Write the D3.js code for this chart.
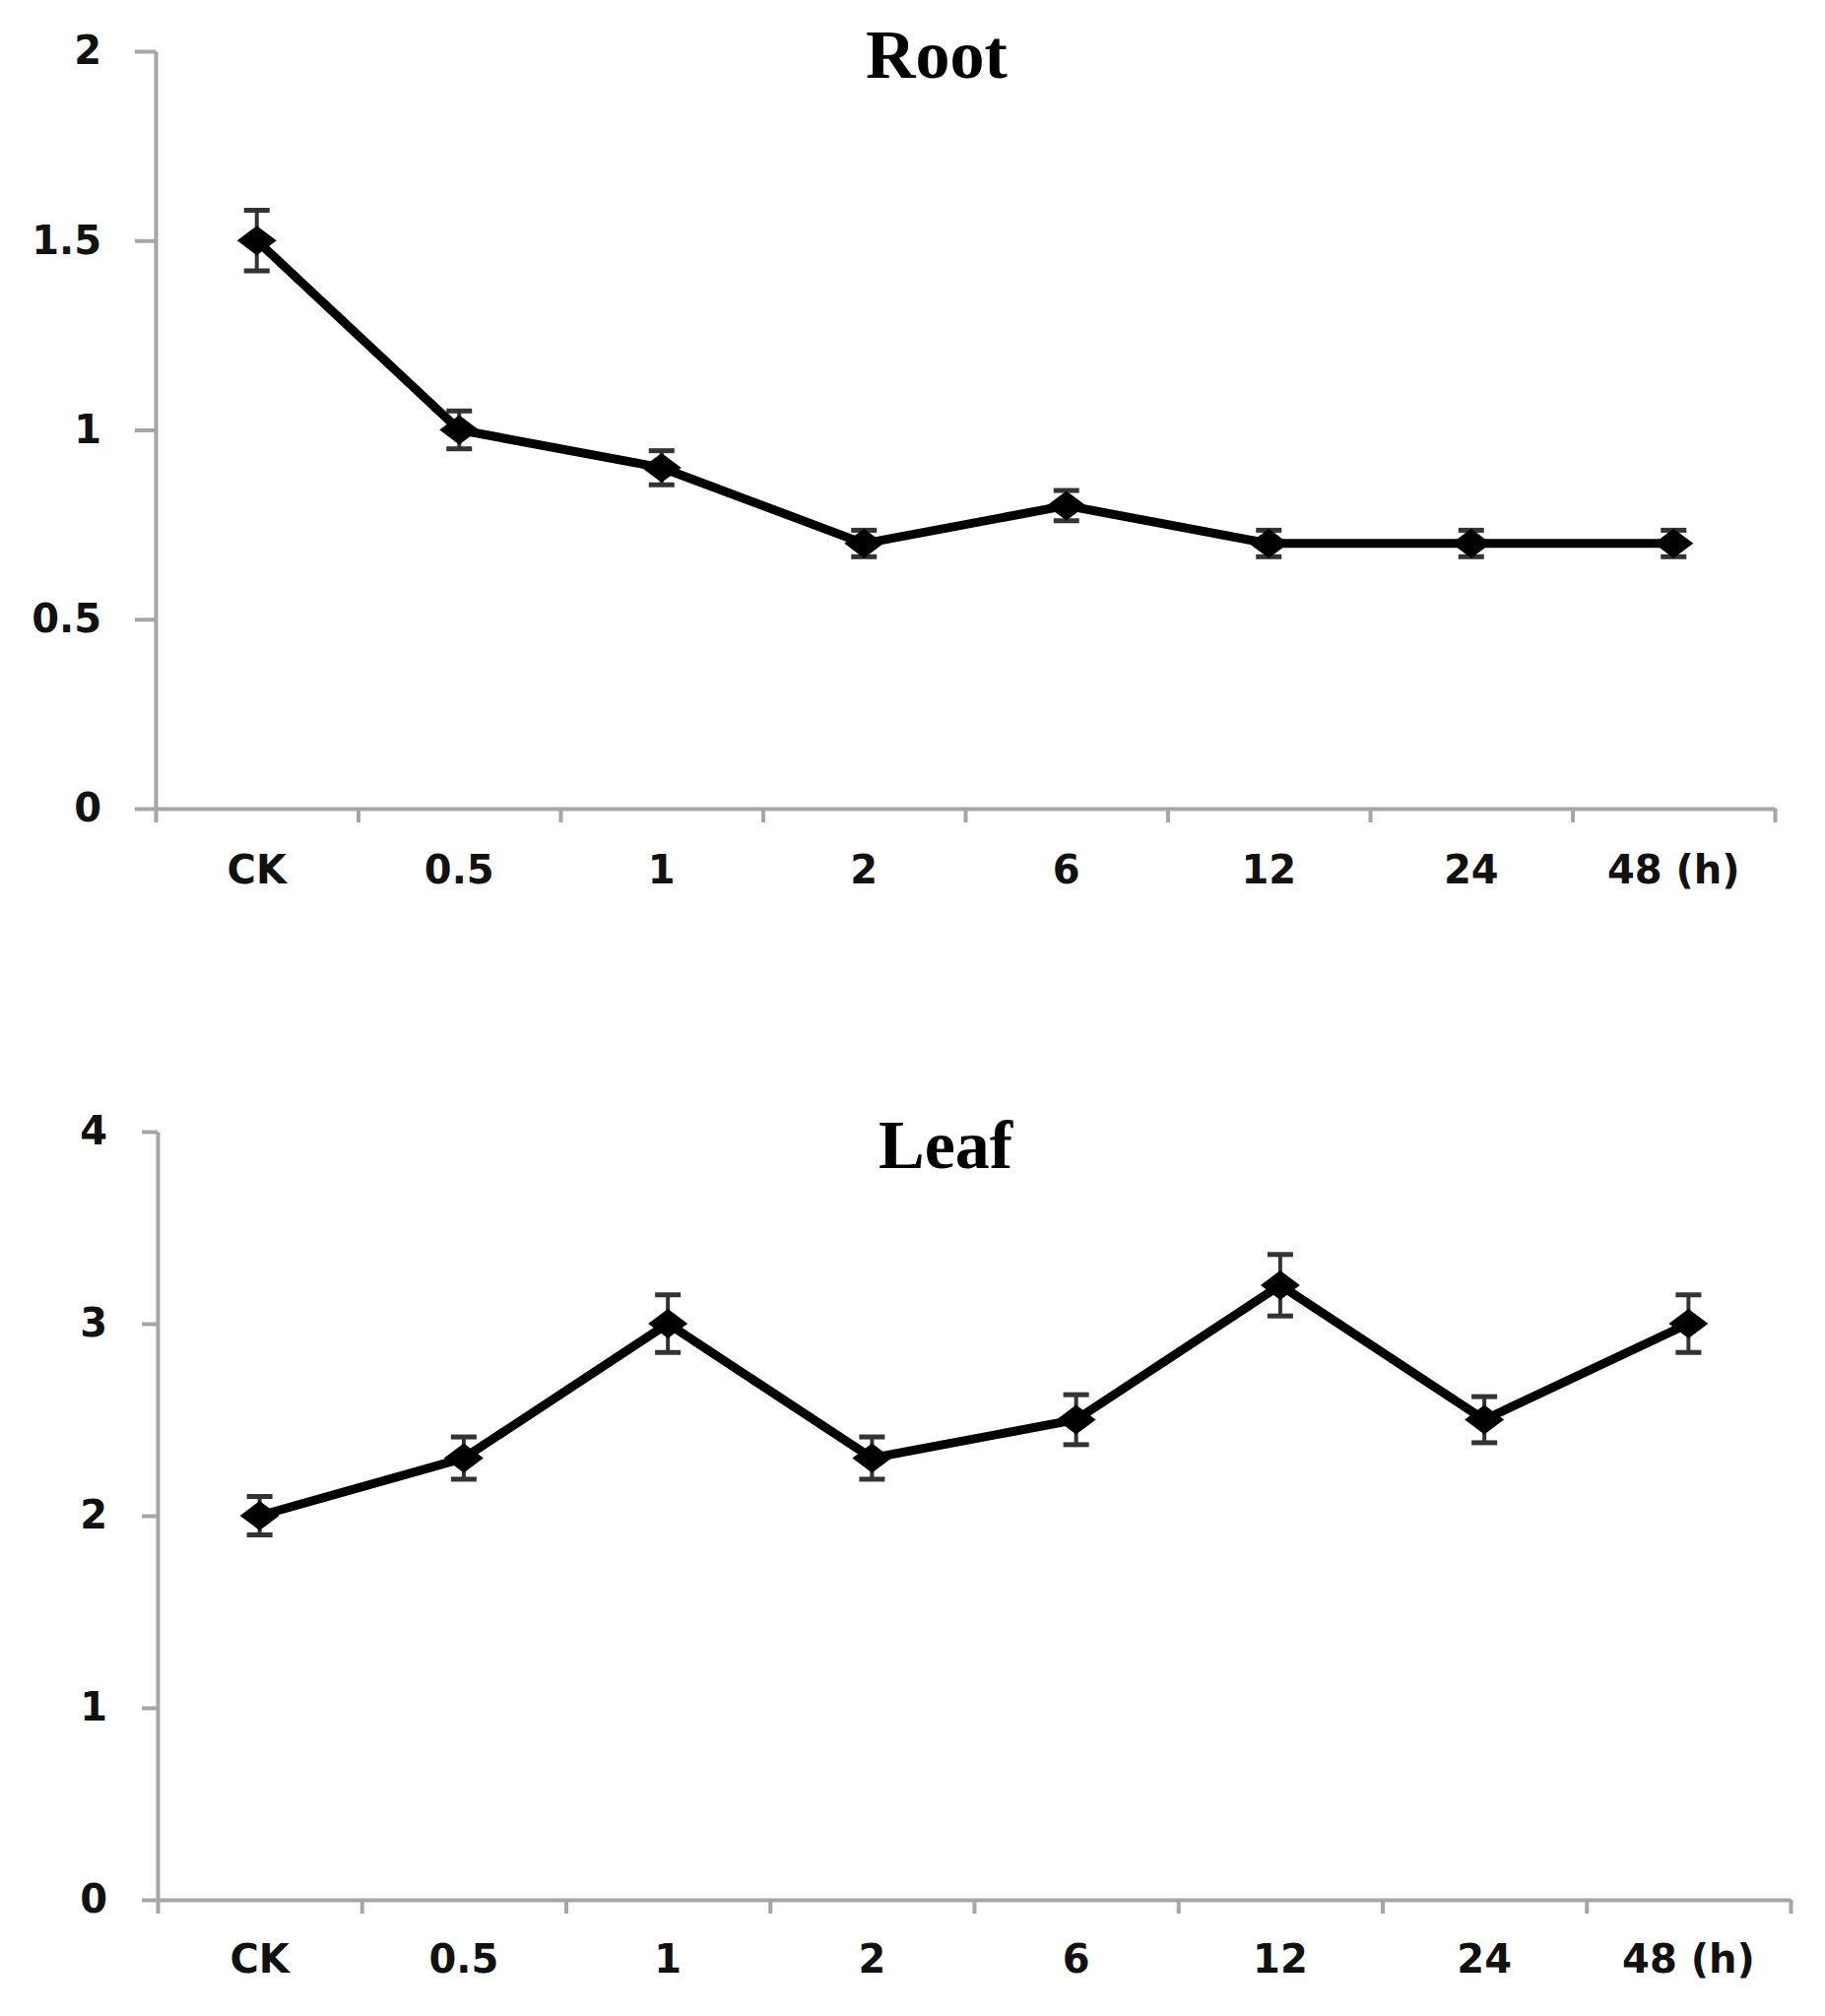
<!DOCTYPE html>
<html>
<head>
<meta charset="utf-8">
<script src="https://cdn.jsdelivr.net/npm/d3@7"></script>
<style>
body { margin: 0; background: #fff; }
svg { display: block; background: #fff; }
.tick text { font-family: "DejaVu Sans", Verdana, sans-serif; font-weight: bold; font-size: 40px; fill: #111; }
.title { font-family: "Liberation Serif", "Times New Roman", serif; font-weight: bold; font-size: 70px; fill: #000; }
</style>
</head>
<body>
<svg width="1853" height="2047"></svg>
<script>
// sampling times after treatment
const categories = ["CK", "0.5", "1", "2", "6", "12", "24", "48 (h)"];

// Root panel: relative expression and error
const rootMean = [1.5, 1.0, 0.9, 0.7, 0.8, 0.7, 0.7, 0.7];
const rootErr = [0.08, 0.05, 0.045, 0.035, 0.04, 0.035, 0.035, 0.035];
const rootTicks = [0, 0.5, 1, 1.5, 2];

// Leaf panel
const leafMean = [2.0, 2.3, 3.0, 2.3, 2.5, 3.2, 2.5, 3.0];
const leafErr = [0.1, 0.11, 0.15, 0.11, 0.13, 0.16, 0.12, 0.15];
const leafTicks = [0, 1, 2, 3, 4];

const svg = d3.select('svg');

function styleAxis(a) {
    a.selectAll('.domain, .tick line')
    .attr('stroke', '#a6a6a6')
    .attr('stroke-width', 4);
}

function plot_panel(opt) {
    const x = d3.scaleBand()
    .domain(categories)
    .range([opt.left, opt.right])
    .padding(0);
    const y = d3.scaleLinear()
    .domain([0, opt.yMax])
    .range([opt.bottom, opt.top]);
    // tick marks of the x axis sit on category boundaries
    const edges = d3.scaleLinear()
    .domain([0, categories.length])
    .range([opt.left, opt.right]);

    const g = svg.append('g');

    g.append('g')
    .attr('transform', 'translate(' + opt.left + ',0)')
    .call(d3.axisLeft(y).tickValues(opt.ticks).tickFormat(d3.format('~g'))
        .tickSize(opt.yTick).tickSizeOuter(0).tickPadding(opt.yPad))
    .call(styleAxis);

    g.append('g')
    .attr('transform', 'translate(0,' + opt.bottom + ')')
    .call(d3.axisBottom(edges).tickValues(d3.range(categories.length + 1))
        .tickSize(14).tickSizeOuter(0).tickFormat(''))
    .call(styleAxis);

    g.append('g')
    .attr('transform', 'translate(0,' + opt.bottom + ')')
    .call(d3.axisBottom(x).tickSize(0).tickPadding(opt.xPad))
    .call(function(a) { a.select('.domain').remove(); });

    const data = categories.map(function(c, i) {
        return {cat: c, v: opt.mean[i], e: opt.err[i]};
    });
    const cx = function(d) { return x(d.cat) + x.bandwidth() / 2; };

    // error bars
    g.selectAll('line.err')
    .data(data)
    .enter().append('line')
    .classed('err', true)
    .attr('x1', cx).attr('x2', cx)
    .attr('y1', function(d) { return y(d.v + d.e); })
    .attr('y2', function(d) { return y(d.v - d.e); })
    .attr('stroke', '#333').attr('stroke-width', 4);

    ['top', 'bot'].forEach(function(side) {
        g.selectAll('line.cap-' + side)
        .data(data)
        .enter().append('line')
        .attr('class', 'cap-' + side)
        .attr('x1', function(d) { return cx(d) - 13; })
        .attr('x2', function(d) { return cx(d) + 13; })
        .attr('y1', function(d) { return y(side == 'top' ? d.v + d.e : d.v - d.e); })
        .attr('y2', function(d) { return y(side == 'top' ? d.v + d.e : d.v - d.e); })
        .attr('stroke', '#333').attr('stroke-width', 5);
    });

    g.append('path')
    .datum(data)
    .attr('d', d3.line().x(cx).y(function(d) { return y(d.v); }))
    .attr('fill', 'none')
    .attr('stroke', '#000')
    .attr('stroke-width', 9)
    .attr('stroke-linejoin', 'miter');

    // diamond markers (a bit wider than tall, as in the figure)
    g.selectAll('path.marker')
    .data(data)
    .enter().append('path')
    .classed('marker', true)
    .attr('d', function(d) {
        const px = cx(d), py = y(d.v), hw = 20, hh = 15;
        return 'M' + (px - hw) + ',' + py + 'L' + px + ',' + (py - hh) +
            'L' + (px + hw) + ',' + py + 'L' + px + ',' + (py + hh) + 'Z';
    })
    .attr('fill', '#000');

    g.append('text')
    .classed('title', true)
    .attr('x', opt.titleX)
    .attr('y', opt.titleY)
    .attr('text-anchor', 'middle')
    .text(opt.title);
}

plot_panel({title: 'Root', titleX: 951, titleY: 79,
    left: 158, right: 1802, top: 52, bottom: 821,
    yMax: 2, ticks: rootTicks, yTick: 21, yPad: 34, xPad: 48,
    mean: rootMean, err: rootErr});

plot_panel({title: 'Leaf', titleX: 960, titleY: 1186,
    left: 160, right: 1818, top: 1149, bottom: 1929,
    yMax: 4, ticks: leafTicks, yTick: 16, yPad: 35, xPad: 46,
    mean: leafMean, err: leafErr});
</script>
</body>
</html>
